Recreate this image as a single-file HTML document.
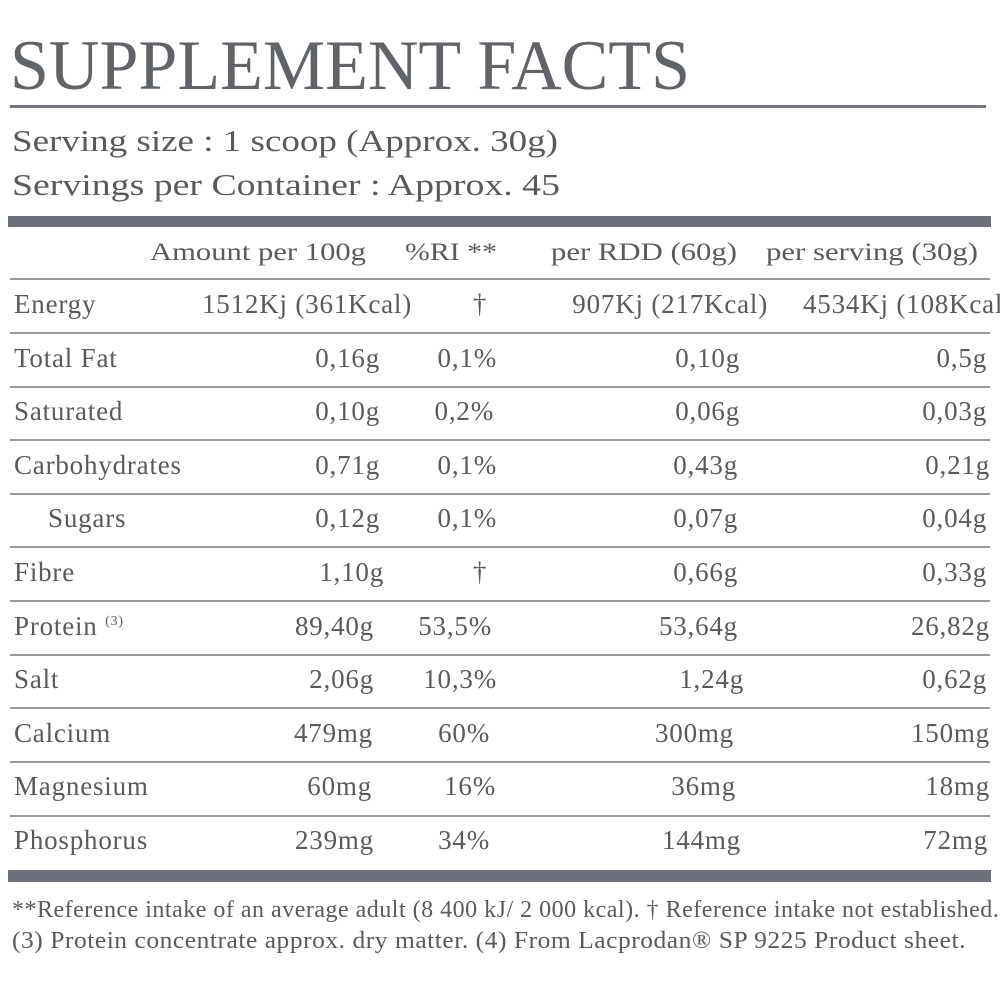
<!DOCTYPE html>
<html><head><meta charset="utf-8"><style>
html,body{margin:0;padding:0;background:#fff;}
svg{display:block;}
text{font-family:"Liberation Serif",serif;fill:#5a5a5a;}
</style></head><body>
<svg width="1000" height="1000" viewBox="0 0 1000 1000" xmlns="http://www.w3.org/2000/svg">
<text x="10" y="89" font-size="71" style="fill:#606468" textLength="680" lengthAdjust="spacingAndGlyphs">SUPPLEMENT FACTS</text>
<rect x="10" y="105" width="976" height="3" fill="#707580"/>
<text x="12" y="151" font-size="31" textLength="546" lengthAdjust="spacingAndGlyphs">Serving size : 1 scoop (Approx. 30g)</text>
<text x="12" y="195" font-size="31" textLength="548" lengthAdjust="spacingAndGlyphs">Servings per Container  : Approx. 45</text>
<rect x="8" y="216" width="983" height="11" fill="#6b707b"/>
<g font-size="25">
<text x="150" y="260" textLength="216" lengthAdjust="spacingAndGlyphs">Amount per 100g</text>
<text x="405" y="260" textLength="92" lengthAdjust="spacingAndGlyphs">%RI **</text>
<text x="551" y="260" textLength="186" lengthAdjust="spacingAndGlyphs">per RDD (60g)</text>
<text x="766" y="260" textLength="212" lengthAdjust="spacingAndGlyphs">per serving (30g)</text>
</g>
<g fill="#999">
<rect x="10" y="278" width="980" height="2"/>
<rect x="10" y="332" width="980" height="2"/>
<rect x="10" y="386" width="980" height="2"/>
<rect x="10" y="439" width="980" height="2"/>
<rect x="10" y="493" width="980" height="2"/>
<rect x="10" y="546" width="980" height="2"/>
<rect x="10" y="600" width="980" height="2"/>
<rect x="10" y="654" width="980" height="2"/>
<rect x="10" y="707" width="980" height="2"/>
<rect x="10" y="761" width="980" height="2"/>
<rect x="10" y="815" width="980" height="2"/>
</g>
<rect x="8" y="870" width="983" height="12" fill="#6b707b"/>
<g font-size="27" letter-spacing="0.8">
<text x="14" y="313">Energy</text>
<text x="412" y="313" text-anchor="end">1512Kj (361Kcal)</text>
<text x="480" y="313" text-anchor="middle">†</text>
<text x="768" y="313" text-anchor="end">907Kj (217Kcal)</text>
<text x="803" y="313">4534Kj (108Kcal)</text>

<text x="14" y="367">Total Fat</text>
<text x="380" y="367" text-anchor="end">0,16g</text>
<text x="497" y="367" text-anchor="end">0,1%</text>
<text x="740" y="367" text-anchor="end">0,10g</text>
<text x="987" y="367" text-anchor="end">0,5g</text>

<text x="14" y="420">Saturated</text>
<text x="380" y="420" text-anchor="end">0,10g</text>
<text x="494" y="420" text-anchor="end">0,2%</text>
<text x="740" y="420" text-anchor="end">0,06g</text>
<text x="987" y="420" text-anchor="end">0,03g</text>

<text x="14" y="474">Carbohydrates</text>
<text x="380" y="474" text-anchor="end">0,71g</text>
<text x="497" y="474" text-anchor="end">0,1%</text>
<text x="738" y="474" text-anchor="end">0,43g</text>
<text x="990" y="474" text-anchor="end">0,21g</text>

<text x="48" y="527">Sugars</text>
<text x="380" y="527" text-anchor="end">0,12g</text>
<text x="497" y="527" text-anchor="end">0,1%</text>
<text x="738" y="527" text-anchor="end">0,07g</text>
<text x="987" y="527" text-anchor="end">0,04g</text>

<text x="14" y="581">Fibre</text>
<text x="384" y="581" text-anchor="end">1,10g</text>
<text x="480" y="581" text-anchor="middle">†</text>
<text x="738" y="581" text-anchor="end">0,66g</text>
<text x="987" y="581" text-anchor="end">0,33g</text>

<text x="14" y="635">Protein <tspan font-size="14" dy="-10">(3)</tspan></text>
<text x="374" y="635" text-anchor="end">89,40g</text>
<text x="492" y="635" text-anchor="end">53,5%</text>
<text x="738" y="635" text-anchor="end">53,64g</text>
<text x="990" y="635" text-anchor="end">26,82g</text>

<text x="14" y="688">Salt</text>
<text x="374" y="688" text-anchor="end">2,06g</text>
<text x="497" y="688" text-anchor="end">10,3%</text>
<text x="744" y="688" text-anchor="end">1,24g</text>
<text x="987" y="688" text-anchor="end">0,62g</text>

<text x="14" y="742">Calcium</text>
<text x="373" y="742" text-anchor="end">479mg</text>
<text x="490" y="742" text-anchor="end">60%</text>
<text x="734" y="742" text-anchor="end">300mg</text>
<text x="990" y="742" text-anchor="end">150mg</text>

<text x="14" y="795">Magnesium</text>
<text x="372" y="795" text-anchor="end">60mg</text>
<text x="496" y="795" text-anchor="end">16%</text>
<text x="736" y="795" text-anchor="end">36mg</text>
<text x="990" y="795" text-anchor="end">18mg</text>

<text x="14" y="849">Phosphorus</text>
<text x="374" y="849" text-anchor="end">239mg</text>
<text x="490" y="849" text-anchor="end">34%</text>
<text x="741" y="849" text-anchor="end">144mg</text>
<text x="988" y="849" text-anchor="end">72mg</text>
</g>
<g font-size="24" letter-spacing="0.5">
<text x="12" y="917">**Reference intake of an average adult (8 400 kJ/ 2 000 kcal). † Reference intake not established.</text>
<text x="12" y="948" textLength="954" lengthAdjust="spacingAndGlyphs">(3) Protein concentrate approx. dry matter. (4) From Lacprodan® SP 9225 Product sheet.</text>
</g>
</svg>
</body></html>
